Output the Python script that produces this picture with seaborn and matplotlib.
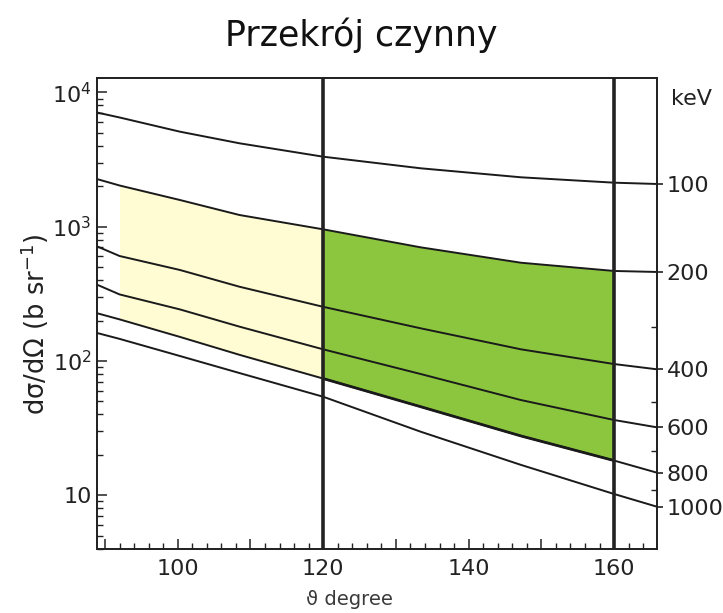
import numpy as np
import pandas as pd
import seaborn as sns
import matplotlib
matplotlib.use("Agg")
import matplotlib.pyplot as plt
from matplotlib.ticker import FixedLocator, NullFormatter, FuncFormatter, MultipleLocator

# ---------------- data ----------------
theta = [89.0, 92.0, 100.3, 108.5, 120.0, 133.4, 147.2, 160.0, 165.9]
energies = [100, 200, 400, 600, 800, 1000]
xs_100 = [7072, 6513, 5105, 4182, 3323, 2724, 2334, 2128, 2081]
xs_200 = [2256, 2028, 1581, 1222, 956, 702, 539, 468, 460]
xs_400 = [710, 605, 476, 357, 253, 175, 122, 94.8, 86.6]
xs_600 = [368, 313, 242, 180, 122, 79.9, 51.1, 36.3, 32.0]
xs_800 = [226, 204, 151, 111, 73.9, 45.6, 27.6, 18.1, 14.7]
xs_1000 = [161, 146, 108.8, 81.2, 54.1, 29.7, 16.8, 10.2, 8.2]
series = [xs_100, xs_200, xs_400, xs_600, xs_800, xs_1000]

detector_angles = [120, 160]          # vertical lines
yellow_range = (92.0, 120.0)          # light yellow band (200 keV .. 800 keV)
green_range = (120.0, 160.0)          # green band (200 keV .. 800 keV)
minor_energy_marks = [180, 49.7, 21.4, 10.9]   # right-edge ticks (300,500,700,900 keV)

xtick_labels = [100, 120, 140, 160]
ytick_values = [10, 100, 1000, 10000]
ytick_labels = ["10", "10$^{2}$", "10$^{3}$", "10$^{4}$"]

# ---------------- styling ----------------
sns.set_style("ticks")
plt.rcParams["font.family"] = ["DejaVu Sans"]
plt.rcParams["mathtext.fontset"] = "dejavusans"

df = pd.DataFrame({
    "theta": np.tile(theta, len(energies)),
    "xs": np.concatenate(series),
    "E": np.repeat(energies, len(theta)),
})

fig = plt.figure(figsize=(7.23, 6.13), dpi=100)
ax = fig.add_axes([97 / 723, 1 - 549 / 613, 560 / 723, 471 / 613])

th = np.array(theta)
lo = np.array(xs_800)
hi = np.array(xs_200)
ax.fill_between(th, lo, hi, where=(th >= yellow_range[0]) & (th <= yellow_range[1]),
                color="#FFFCD4", linewidth=0, zorder=1)
ax.fill_between(th, lo, hi, where=(th >= green_range[0]) & (th <= green_range[1]),
                color="#8CC63F", linewidth=0, zorder=1)

sns.lineplot(data=df, x="theta", y="xs", hue="E",
             palette=["#1a1a1a"] * len(energies), legend=False,
             linewidth=1.4, ax=ax, zorder=3, estimator=None, sort=False)

# thicker bottom edge of the green region
m = (th >= green_range[0]) & (th <= green_range[1])
ax.plot(th[m], lo[m], color="#1a1a1a", linewidth=2.0, zorder=3)

for a in detector_angles:
    ax.axvline(a, color="#222222", linewidth=2.6, zorder=4)

ax.set_yscale("log")
ax.set_xlim(88.9, 165.9)
ax.set_ylim(3.97, 12820)

# y ticks
ax.yaxis.set_major_locator(FixedLocator(ytick_values))
ax.set_yticklabels(ytick_labels)
ax.yaxis.set_minor_locator(matplotlib.ticker.LogLocator(base=10, subs=np.arange(2, 10)))
ax.yaxis.set_minor_formatter(NullFormatter())

# x ticks
ax.xaxis.set_major_locator(MultipleLocator(10))
ax.xaxis.set_major_formatter(FuncFormatter(lambda v, p: f"{int(round(v))}" if int(round(v)) in xtick_labels else ""))
ax.xaxis.set_minor_locator(MultipleLocator(2))

ax.tick_params(axis="both", which="major", direction="in", length=7, width=1.1,
               labelsize=16, colors="#222222", pad=5)
ax.tick_params(axis="both", which="minor", direction="in", length=4.5, width=1.0, colors="#222222")
ax.tick_params(axis="x", which="major", pad=7)
ax.tick_params(axis="y", which="major", pad=4)

for s in ax.spines.values():
    s.set_visible(True)
    s.set_linewidth(1.3)
    s.set_color("#222222")

ax.set_xlabel("ϑ degree", fontsize=14, color="#3a3a3a", va="center")
ax.xaxis.set_label_coords(0.45, -0.108)
ax.set_ylabel("dσ/dΩ (b sr$^{-1}$)", fontsize=18.5, color="#222222", va="center")
ax.yaxis.set_label_coords(-0.111, 0.478)

# right energy axis
ax2 = ax.twinx()
ax2.set_yscale("log")
ax2.set_ylim(ax.get_ylim())
ends = [s[-1] for s in series]
ax2.yaxis.set_major_locator(FixedLocator(ends))
ax2.set_yticklabels([str(e) for e in energies])
ax2.yaxis.set_minor_locator(FixedLocator(minor_energy_marks))
ax2.yaxis.set_minor_formatter(NullFormatter())
ax2.tick_params(axis="y", which="major", direction="out", length=4, width=1.2,
                labelsize=16, colors="#222222", pad=3)
ax2.tick_params(axis="y", which="minor", direction="in", length=4, width=1.0, colors="#222222")
for s in ax2.spines.values():
    s.set_visible(True)
    s.set_linewidth(1.3)
    s.set_color("#222222")
ax2.text(1.025, 0.955, "keV", transform=ax2.transAxes, fontsize=16, color="#222222",
         ha="left", va="center")

fig.text(0.5, 1 - 35 / 613, "Przekrój czynny", ha="center", va="center",
         fontsize=25, color="#111111")

fig.savefig("out.png", dpi=100)
